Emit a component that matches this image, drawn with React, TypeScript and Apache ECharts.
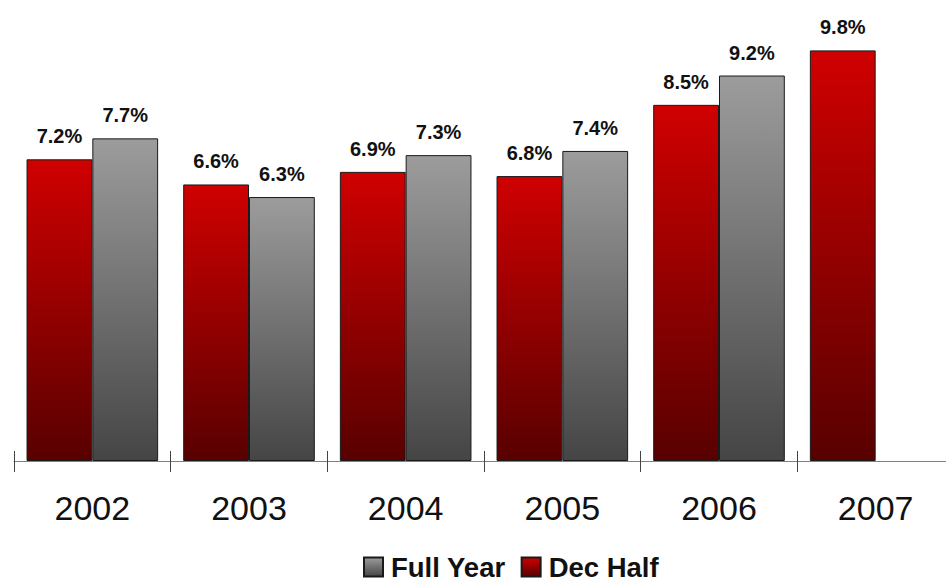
import React, { useEffect, useRef } from "react";
import * as echarts from "echarts";

// Years on the category axis
const years = ["2002", "2003", "2004", "2005", "2006", "2007"];
// Percent values per year
const decHalf = [7.2, 6.6, 6.9, 6.8, 8.5, 9.8];
const fullYear: (number | null)[] = [7.7, 6.3, 7.3, 7.4, 9.2, null];

const FONT = "'Liberation Sans', Arial, Helvetica, sans-serif";

const redFill = () =>
  new echarts.graphic.LinearGradient(0, 0, 0, 1, [
    { offset: 0, color: "#d00000" },
    { offset: 1, color: "#580000" },
  ]);
const grayFill = () =>
  new echarts.graphic.LinearGradient(0, 0, 0, 1, [
    { offset: 0, color: "#9c9c9c" },
    { offset: 1, color: "#454545" },
  ]);

export default function App() {
  const ref = useRef<HTMLDivElement>(null);

  useEffect(() => {
    if (!ref.current) return;
    const chart = echarts.init(ref.current, undefined, { renderer: "svg" });

    const label = {
      show: true,
      position: "top" as const,
      distance: 13,
      color: "#111",
      fontFamily: FONT,
      fontWeight: "bold" as const,
      fontSize: 20,
      formatter: (p: any) => `${p.value}%`,
    };

    chart.setOption({
      animation: false,
      backgroundColor: "#ffffff",
      textStyle: { fontFamily: FONT },
      grid: {
        left: 14,
        width: 940,
        top: 42,
        height: 419,
        containLabel: false,
        outerBoundsMode: "none",
      },
      legend: {
        data: ["Full Year", "Dec Half"],
        top: 553,
        left: 363,
        padding: 0,
        itemWidth: 19,
        itemHeight: 19,
        itemGap: 15,
        icon: "rect",
        textStyle: {
          fontFamily: FONT,
          fontWeight: "bold",
          fontSize: 27.5,
          lineHeight: 26,
          color: "#111",
          padding: [0, 0, 0, 3],
        },
      },
      xAxis: [
        {
          type: "category",
          data: years,
          position: "bottom",
          axisLine: { show: true, lineStyle: { color: "#808080", width: 1 } },
          axisTick: { show: true, length: 11, lineStyle: { color: "#444", width: 1 } },
          axisLabel: {
            margin: 30,
            fontFamily: FONT,
            fontSize: 34,
            color: "#111",
          },
        },
        {
          type: "category",
          data: years,
          position: "bottom",
          axisLine: { show: false },
          axisTick: { show: true, inside: true, length: 10, lineStyle: { color: "#444", width: 1 } },
          axisLabel: { show: false },
        },
      ],
      yAxis: {
        type: "value",
        min: 0,
        max: 10,
        show: false,
        splitLine: { show: false },
      },
      series: [
        {
          name: "Dec Half",
          type: "bar",
          data: decHalf,
          barGap: "0%",
          barCategoryGap: "16%",
          itemStyle: { color: redFill(), borderColor: "#1a1a1a", borderWidth: 1 },
          label,
        },
        {
          name: "Full Year",
          type: "bar",
          data: fullYear.map((v) => (v === null ? "-" : v)),
          barGap: "0%",
          barCategoryGap: "16%",
          itemStyle: { color: grayFill(), borderColor: "#1a1a1a", borderWidth: 1 },
          label,
        },
      ],
    });

    return () => chart.dispose();
  }, []);

  return (
    <div
      ref={ref}
      style={{ position: "fixed", left: 0, top: 0, width: 946, height: 581 }}
    />
  );
}
